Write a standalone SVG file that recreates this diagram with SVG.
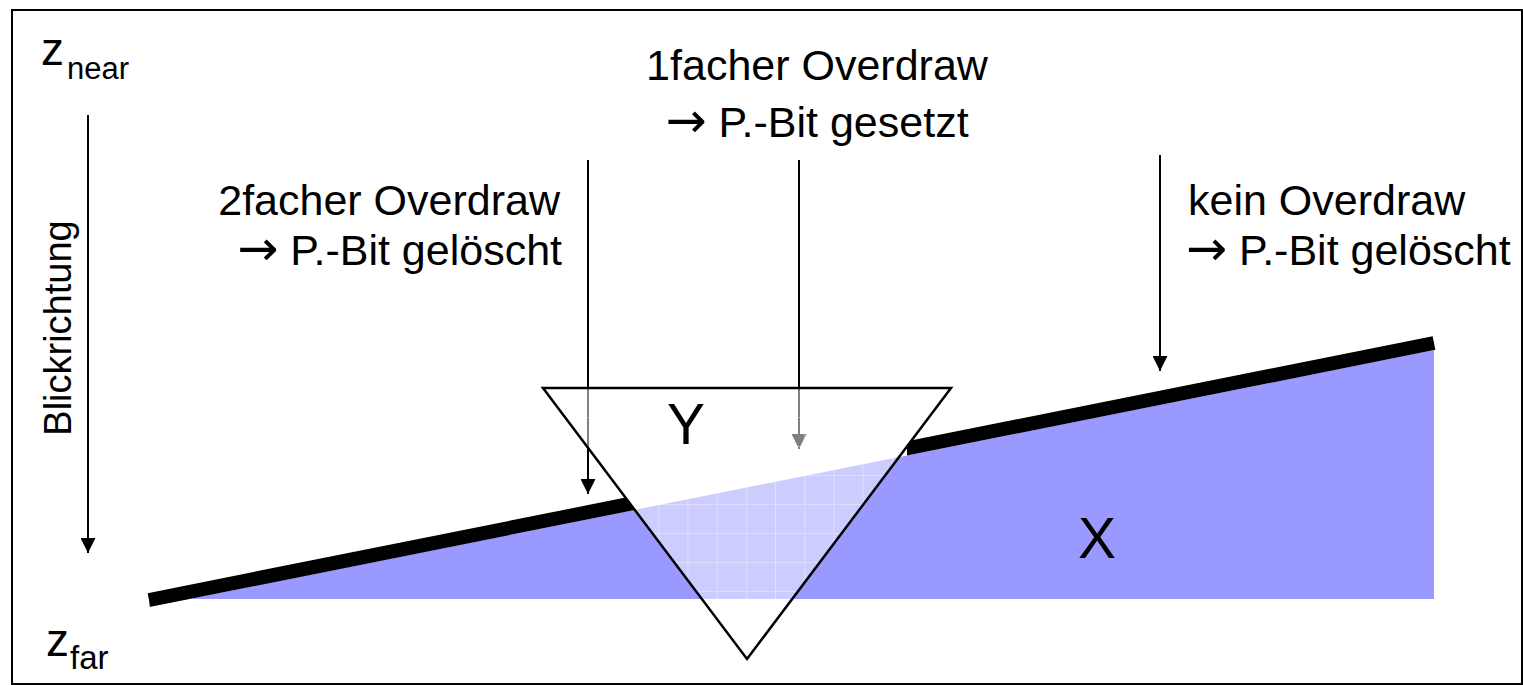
<svg xmlns="http://www.w3.org/2000/svg" width="1523" height="685" viewBox="0 0 1523 685">
<style>
text{font-family:"Liberation Sans",Arial,sans-serif;fill:#000}
.lbl{font-size:43px}
.big{font-size:57px}
.ar{font-family:"DejaVu Sans",sans-serif;font-size:49px}
.arr{stroke:#000;stroke-width:2;fill:none;marker-end:url(#ah)}
</style>
<defs>
<marker id="ah" viewBox="0 0 15 15" refX="15" refY="7.5" markerWidth="15" markerHeight="15" markerUnits="userSpaceOnUse" orient="auto">
<path d="M0,0 L15,7.5 L0,15 Z" fill="#000"/>
</marker>
<mask id="cut">
<rect x="0" y="0" width="1523" height="685" fill="#fff"/>
<polygon points="543,388 951,388 747,659" fill="#000"/>
<rect x="885" y="432" width="22" height="36" fill="#000"/>
</mask>
<clipPath id="tri">
<polygon points="543,388 951,388 747,659"/>
</clipPath>
<pattern id="grid" x="629" y="475" width="29.2" height="29" patternUnits="userSpaceOnUse">
<path d="M0,0.5 H29.2 M0.5,0 V29" stroke="#fff" stroke-width="1.2" opacity="0.35" fill="none"/>
</pattern>
</defs>
<rect x="12" y="10" width="1510" height="674" fill="#fff" stroke="#000" stroke-width="2"/>
<g id="X">
<polygon points="149,607 1434,350 1434,599 149,599" fill="#9999ff"/>
<text class="big" x="1097" y="558" text-anchor="middle">X</text>
</g>
<g id="connectors">
<line class="arr" x1="88" y1="115" x2="88" y2="553"/>
<line class="arr" x1="588" y1="160" x2="588" y2="494"/>
<line class="arr" x1="799" y1="160" x2="799" y2="449"/>
<line class="arr" x1="1160" y1="155" x2="1160" y2="371"/>
</g>
<g id="edge" mask="url(#cut)">
<line x1="149" y1="600" x2="1434" y2="343" stroke="#000" stroke-width="14"/>
</g>
<g id="Y">
<polygon points="543,388 951,388 747,659" fill="#fff" fill-opacity="0.5"/>
<rect x="543" y="388" width="408" height="211" fill="url(#grid)" clip-path="url(#tri)"/>
<polygon points="543,388 951,388 747,659" fill="none" stroke="#000" stroke-width="2.5"/>
<text class="big" x="686" y="444" text-anchor="middle">Y</text>
</g>
<g id="zlabels">
<text x="41" y="65" style="font-size:46px">z<tspan dx="3" dy="14" style="font-size:31px">near</tspan></text>
<text x="46" y="656" style="font-size:46px">z<tspan dx="1" dy="13" style="font-size:33px">far</tspan></text>
<text transform="translate(71,328) rotate(-90)" text-anchor="middle" style="font-size:38px">Blickrichtung</text>
</g>
<g id="label1">
<text class="lbl" x="817" y="80" text-anchor="middle">1facher Overdraw</text>
<text class="lbl" x="817" y="137" text-anchor="middle"><tspan class="ar">→</tspan> P.-Bit gesetzt</text>
</g>
<g id="label2">
<text class="lbl" x="560" y="215" text-anchor="end">2facher Overdraw</text>
<text class="lbl" x="562" y="265" text-anchor="end"><tspan class="ar">→</tspan> P.-Bit gelöscht</text>
</g>
<g id="label3">
<text class="lbl" x="1188" y="215">kein Overdraw</text>
<text class="lbl" x="1186" y="265"><tspan class="ar">→</tspan> P.-Bit gelöscht</text>
</g>
</svg>
